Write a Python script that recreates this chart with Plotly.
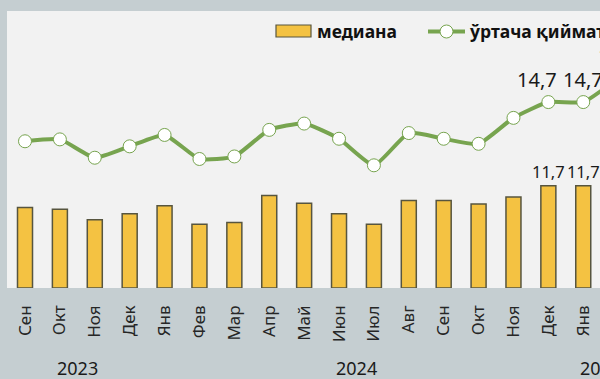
import plotly.graph_objects as go

months = ["Сен", "Окт", "Ноя", "Дек", "Янв", "Фев", "Мар", "Апр", "Май", "Июн",
          "Июл", "Авг", "Сен", "Окт", "Ноя", "Дек", "Янв", "Фев"]
years = ["2023"] * 4 + ["2024"] * 12 + ["2025"] * 2
median = [9.2, 9.0, 7.8, 8.5, 9.4, 7.3, 7.5, 10.6, 9.7, 8.5,
          7.3, 10.0, 10.0, 9.6, 10.4, 11.7, 11.7, 12.0]
mean = [11.6, 11.75, 10.3, 11.2, 12.1, 10.2, 10.4, 12.5, 13.0, 11.8,
        9.7, 12.25, 11.8, 11.4, 13.45, 14.7, 14.7, 16.6]
labeled = [15, 16, 17]

def fmt(v):
    return f"{v:.1f}".replace(".", ",")

x = list(range(len(months)))
bar_text = [fmt(v) if i in labeled else "" for i, v in enumerate(median)]

FONT = "Noto Sans"
BAR = "#f4c242"
GREEN = "#77a44f"
XRANGE = [-0.516, 16.48]

def xpaper(v):
    return (v - XRANGE[0]) / (XRANGE[1] - XRANGE[0])

fig = go.Figure()
fig.add_trace(go.Bar(
    x=x, y=median, width=0.43, name="медиана",
    marker=dict(color=BAR, line=dict(color="#57553f", width=1.5)),
    text=bar_text, textposition="outside", cliponaxis=False, constraintext="none",
    textfont=dict(family=FONT, size=16.5, color="#1a1a1a"),
    yaxis="y", showlegend=False,
))
fig.add_trace(go.Scatter(
    x=x, y=mean, name="ўртача қиймати", mode="lines+markers",
    line=dict(color=GREEN, width=4, shape="spline", smoothing=0.5),
    marker=dict(size=13, color="white", line=dict(color=GREEN, width=1)),
    cliponaxis=True,
    yaxis="y2", showlegend=False,
))

annotations = []
# line value labels (Excel-style, first one nudged left to avoid overlap)
label_shift = {15: -11}
for i in labeled:
    annotations.append(dict(
        x=xpaper(x[i]), y=mean[i], xref="paper", yref="y2", text=fmt(mean[i]),
        showarrow=False, xanchor="center", yanchor="middle",
        xshift=label_shift.get(i, 0), yshift=23,
        font=dict(family=FONT, size=20, color="#1a1a1a"),
    ))

# year group labels
groups = {}
for i, yv in enumerate(years):
    groups.setdefault(yv, []).append(i)
for yv, idx in groups.items():
    annotations.append(dict(
        x=xpaper((idx[0] + idx[-1]) / 2), y=-0.288, xref="paper", yref="paper",
        text=yv, showarrow=False, xanchor="center", yanchor="middle",
        font=dict(family=FONT, size=18, color="#1a1a1a"),
    ))

# manual legend
W, L, T, B = 600, 7, 11, 288
def px(v):
    return (v - L) / (W - L)
def py(v):
    return (B - v) / (B - T)

shapes = [
    dict(type="rect", xref="paper", yref="paper", x0=px(276), x1=px(311),
         y0=py(37), y1=py(25), fillcolor=BAR, line=dict(color="#57553f", width=1.2)),
    dict(type="line", xref="paper", yref="paper", x0=px(428), x1=px(465),
         y0=py(31.5), y1=py(31.5), line=dict(color=GREEN, width=4)),
    dict(type="circle", xref="paper", yref="paper", xsizemode="pixel", ysizemode="pixel",
         xanchor=px(446.5), yanchor=py(31.5), x0=-6.5, x1=6.5, y0=-6.5, y1=6.5,
         fillcolor="white", line=dict(color=GREEN, width=1)),
]
annotations += [
    dict(x=px(315), y=py(31), xref="paper", yref="paper", text="<b>медиана</b>",
         showarrow=False, xanchor="left", yanchor="middle",
         font=dict(family=FONT, size=17.5, color="#111111")),
    dict(x=px(467), y=py(31), xref="paper", yref="paper", text="<b>ўртача қиймати</b>",
         showarrow=False, xanchor="left", yanchor="middle",
         font=dict(family=FONT, size=17.5, color="#111111")),
]

fig.update_layout(
    width=600, height=379,
    margin=dict(l=L, r=0, t=T, b=379 - B, autoexpand=False),
    paper_bgcolor="#c5ced1",
    plot_bgcolor="#f2f2f2",
    xaxis=dict(range=XRANGE, tickmode="array", tickvals=x, ticktext=months,
               tickangle=-90, showgrid=False, zeroline=False, showline=False, ticks="",
               automargin=False, ticklabelstandoff=13,
               tickfont=dict(family=FONT, size=17, color="#262626")),
    yaxis=dict(range=[0, 31.7], visible=False, showgrid=False, automargin=False),
    yaxis2=dict(range=[0, 21.9], overlaying="y", side="right", visible=False,
                showgrid=False, automargin=False),
    shapes=shapes,
    annotations=annotations,
    bargap=0.5,
)

fig.write_html("out.html", config={"displayModeBar": False},
               post_script="document.body.style.margin='0';")
